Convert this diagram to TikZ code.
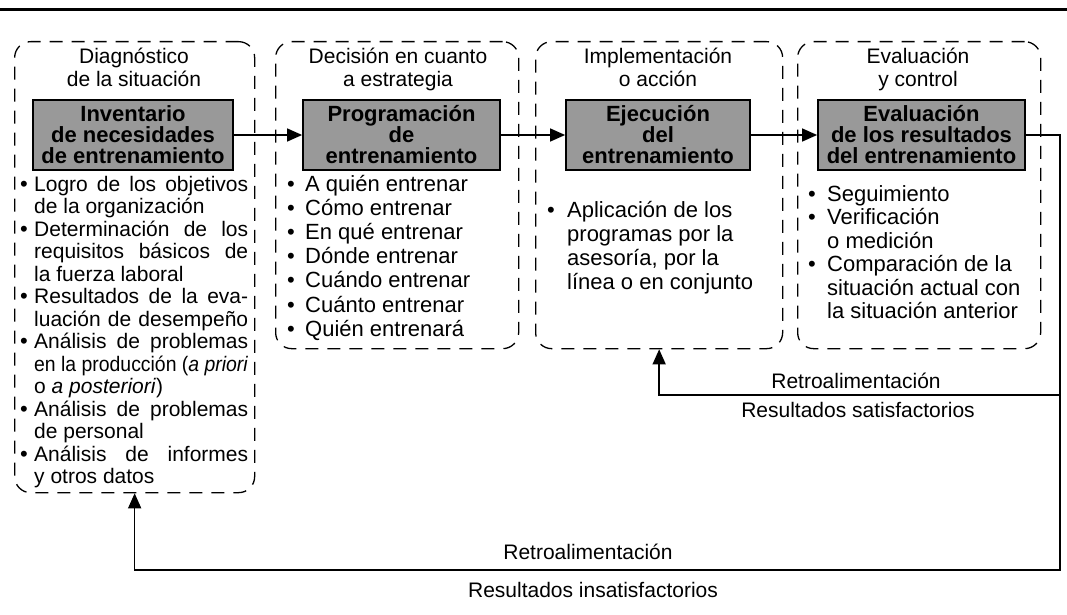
\documentclass[tikz,border=0pt]{standalone}
\usepackage{fontspec}
\usepackage{graphicx}
\setmainfont{Liberation Sans}
\usetikzlibrary{arrows.meta}
\newsavebox\jlbox
\newcommand\jl[2]{\sbox\jlbox{#2}\ifdim\wd\jlbox>#1pt\resizebox{#1pt}{\height}{\usebox\jlbox}\else\makebox[#1pt][s]{#2}\fi}
\begin{document}
\begin{tikzpicture}[x=1pt,y=-1pt,
  txt/.style={inner sep=0pt,font=\fontsize{22}{23}\selectfont},
  txta/.style={inner sep=0pt,font=\fontsize{21}{22}\selectfont},
  bl/.style={txt,anchor=base west},
  bla/.style={txta,anchor=base west},
  bul/.style={txt,anchor=base},
  ttl/.style={txta,anchor=base,align=center},
  dbox/.style={draw,line width=1.3pt,dash pattern=on 13pt off 9pt,rounded corners=16pt,anchor=north west,inner sep=0pt},
  ibox/.style={draw,line width=1.8pt,fill=black!40,minimum height=70pt,inner sep=0pt,align=center,
     font=\bfseries\fontsize{22}{21}\selectfont},
  conn/.style={line width=1.4pt},
  tip/.style={-{Triangle[length=15pt,width=13pt]}}
]
\useasboundingbox (0,0) rectangle (1067,615);
\draw[line width=3pt] (0,10) -- (1067,10);

% dashed stage boxes
\node[dbox,minimum width=240pt,minimum height=451pt] (B1) at (14,41) {};
\node[dbox,minimum width=243pt,minimum height=307pt] (B2) at (275,41) {};
\node[dbox,minimum width=247pt,minimum height=307pt] (B3) at (535,41) {};
\node[dbox,minimum width=243pt,minimum height=307pt] (B4) at (797,41) {};

% titles
\node[ttl] (t1a) at (134,64) {Diagnóstico};
\node[ttl] (t1b) at (134,87) {de la situación};
\node[ttl] (t2a) at (398,64) {Decisión en cuanto};
\node[ttl] (t2b) at (398,87) {a estrategia};
\node[ttl] (t3a) at (658,64) {Implementación};
\node[ttl] (t3b) at (658,87) {o acción};
\node[ttl] (t4a) at (918,64) {Evaluación};
\node[ttl] (t4b) at (918,87) {y control};

% inner boxes
\node[ibox,minimum width=200pt] (I1) at (133,135) {Inventario\\de necesidades\\de entrenamiento};
\node[ibox,minimum width=197pt] (I2) at (401.5,135) {Programación\\de\\entrenamiento};
\node[ibox,minimum width=184pt] (I3) at (658,135) {Ejecución\\del\\entrenamiento};
\node[ibox,minimum width=207pt] (I4) at (921.5,135) {Evaluación\\de los resultados\\del entrenamiento};

\draw[conn,tip] (I1.east) -- (I2.west);
\draw[conn,tip] (I2.east) -- (I3.west);
\draw[conn,tip] (I3.east) -- (I4.west);

% box 1 list
\node[bul] (p1a) at (24,191) {•};
\node[bla] (l1a) at (34,191) {\jl{214}{Logro de los objetivos}};
\node[bla] (l1b) at (34,213.5) {de la organización};
\node[bul] (p1b) at (24,236) {•};
\node[bla] (l1c) at (34,236) {\jl{214}{Determinación de los}};
\node[bla] (l1d) at (34,258.5) {\jl{214}{requisitos básicos de}};
\node[bla] (l1e) at (34,281) {la fuerza laboral};
\node[bul] (p1c) at (24,303.5) {•};
\node[bla] (l1f) at (34,303.5) {\jl{214}{Resultados de la eva-}};
\node[bla] (l1g) at (34,326) {\jl{214}{luación de desempeño}};
\node[bul] (p1d) at (24,348.5) {•};
\node[bla] (l1h) at (34,348.5) {\jl{214}{Análisis de problemas}};
\node[bla] (l1i) at (34,371) {\jl{214}{en la producción (\textit{a priori}}};
\node[bla] (l1j) at (34,393.5) {o \textit{a posteriori})};
\node[bul] (p1e) at (24,416) {•};
\node[bla] (l1k) at (34,416) {\jl{214}{Análisis de problemas}};
\node[bla] (l1l) at (34,438.5) {de personal};
\node[bul] (p1f) at (24,461) {•};
\node[bla] (l1m) at (34,461) {\jl{214}{Análisis de informes}};
\node[bla] (l1n) at (34,483.5) {y otros datos};

% box 2 list
\node[bul] (p2a) at (291,191) {•};   \node[bl] (l2a) at (305,191) {A quién entrenar};
\node[bul] (p2b) at (291,215.2) {•}; \node[bl] (l2b) at (305,215.2) {Cómo entrenar};
\node[bul] (p2c) at (291,239.4) {•}; \node[bl] (l2c) at (305,239.4) {En qué entrenar};
\node[bul] (p2d) at (291,263.6) {•}; \node[bl] (l2d) at (305,263.6) {Dónde entrenar};
\node[bul] (p2e) at (291,287.8) {•}; \node[bl] (l2e) at (305,287.8) {Cuándo entrenar};
\node[bul] (p2f) at (291,312) {•};   \node[bl] (l2f) at (305,312) {Cuánto entrenar};
\node[bul] (p2g) at (291,336.2) {•}; \node[bl] (l2g) at (305,336.2) {Quién entrenará};

% box 3 list
\node[bul] (p3a) at (551,217) {•};
\node[bl] (l3a) at (567,217) {Aplicación de los};
\node[bl] (l3b) at (567,241) {programas por la};
\node[bl] (l3c) at (567,265) {asesoría, por la};
\node[bl] (l3d) at (567,289) {línea o en conjunto};

% box 4 list
\node[bul] (p4a) at (812,201) {•};   \node[bl] (l4a) at (827,201) {Seguimiento};
\node[bul] (p4b) at (812,224.5) {•}; \node[bl] (l4b) at (827,224.5) {Verificación};
\node[bl] (l4c) at (827,248) {o medición};
\node[bul] (p4c) at (812,271.5) {•}; \node[bl] (l4d) at (827,271.5) {Comparación de la};
\node[bl] (l4e) at (827,295) {situación actual con};
\node[bl] (l4f) at (827,318.5) {la situación anterior};

% feedback loops
\coordinate (fa) at (1060,395);
\coordinate (fb) at (1060,570);
\draw[conn,tip] (I4.east) -| (fa) -| (B3.south);
\draw[conn,tip] (fa) -- (fb) -| (B1.south);

\node[txta,anchor=base] (r1a) at (856,388) {Retroalimentación};
\node[txta,anchor=base] (r1b) at (858,417) {Resultados satisfactorios};
\node[txta,anchor=base] (r2a) at (588,559) {Retroalimentación};
\node[txta,anchor=base] (r2b) at (593,597) {Resultados insatisfactorios};
\end{tikzpicture}
\end{document}
